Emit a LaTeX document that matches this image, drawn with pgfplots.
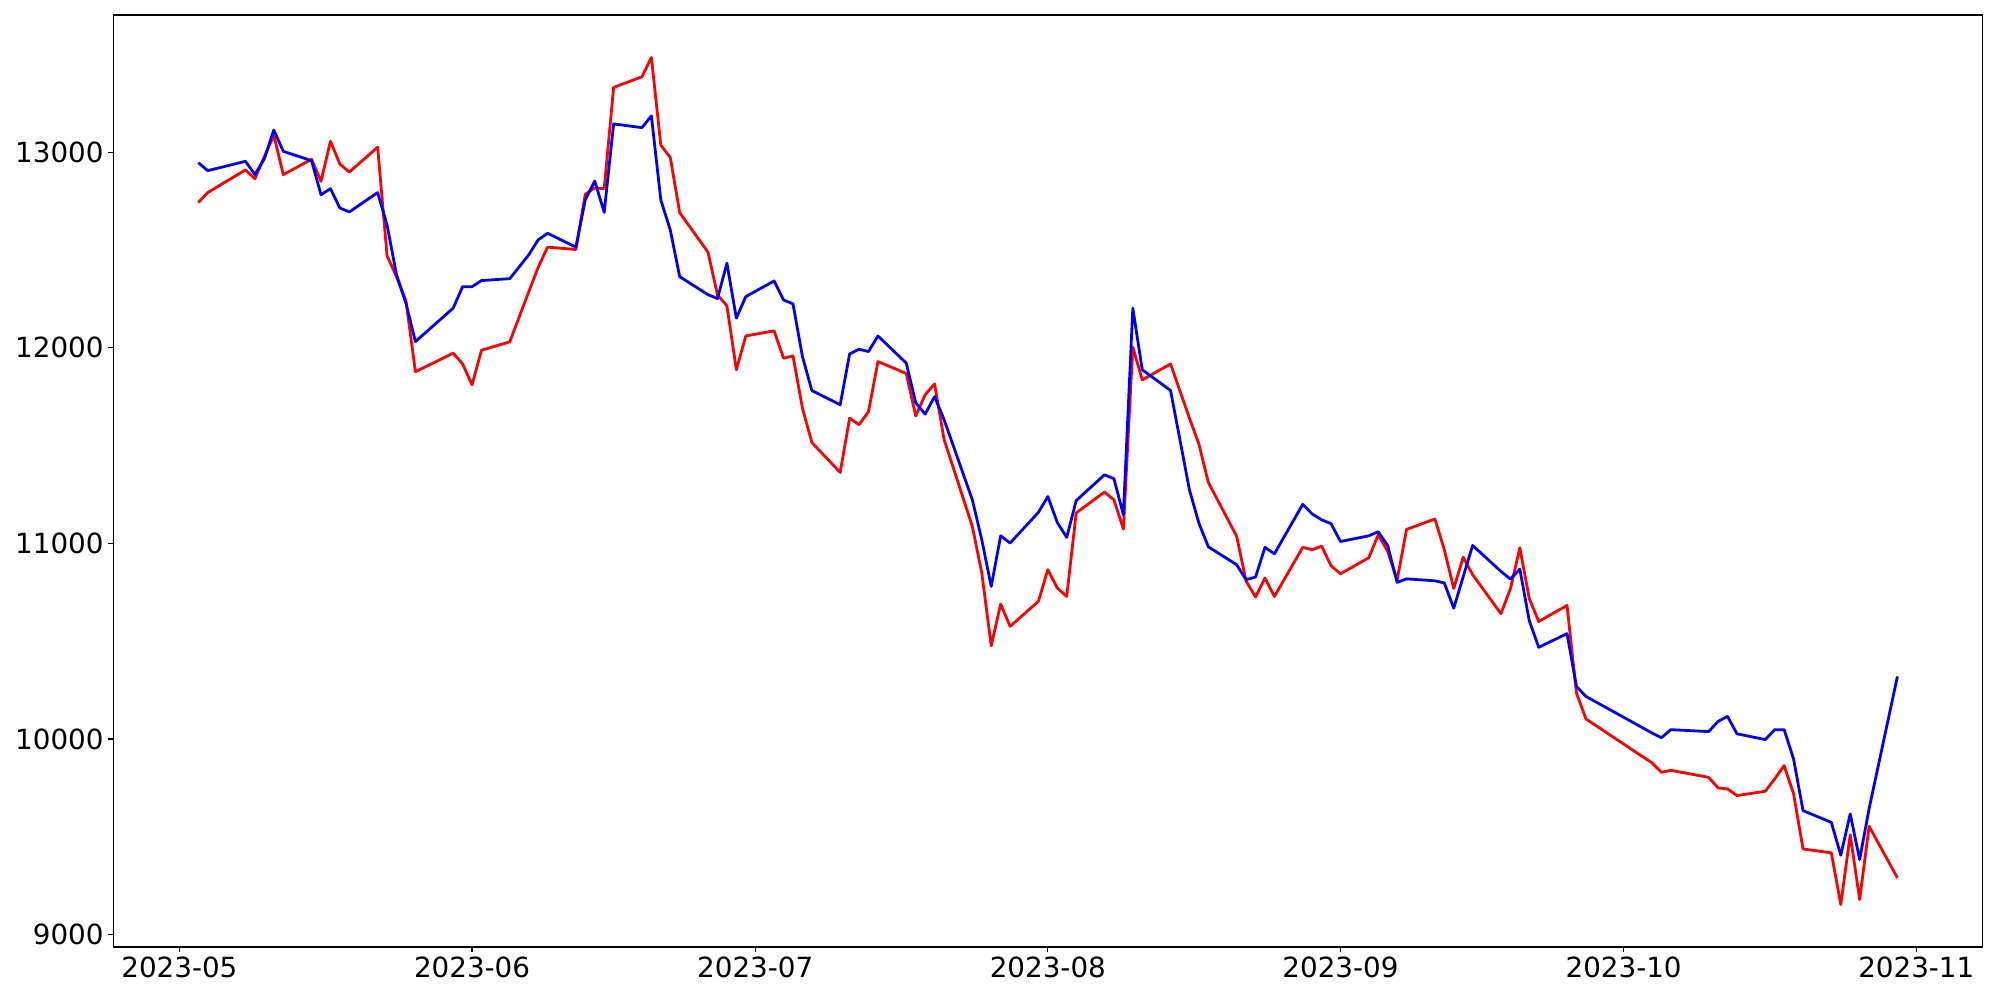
\documentclass[border=0pt]{standalone}
\usepackage{fontspec}
\setmainfont{DejaVu Sans}
\usepackage{pgfplots}
\usepackage{pgfplotstable}
\pgfplotsset{compat=1.18}

% day = days since 2023-05-01
\pgfplotstableread{
day red blue
2 12744 12947
3 12794 12906
7 12910 12954
8 12865 12886
9 12978 12967
10 13088 13114
11 12886 13005
14 12964 12957
15 12852 12783
16 13056 12814
17 12940 12715
18 12899 12695
21 13026 12794
22 12470 12628
23 12364 12373
24 12240 12228
25 11878 12032
29 11973 12203
30 11918 12313
31 11811 12313
32 11988 12344
35 12031 12354
37 12286 12475
38 12411 12552
39 12515 12586
42 12503 12515
43 12786 12758
44 12818 12853
45 12814 12693
46 13332 13145
49 13386 13126
50 13485 13186
51 13036 12756
52 12974 12603
53 12691 12364
56 12489 12272
57 12271 12252
58 12215 12433
59 11888 12152
60 12061 12262
63 12087 12342
64 11947 12245
65 11959 12225
66 11692 11956
67 11516 11782
70 11363 11709
71 11641 11969
72 11607 11993
73 11674 11981
74 11930 12061
77 11869 11922
78 11652 11720
79 11760 11661
80 11816 11751
81 11533 11634
84 11087 11223
85 10849 11019
86 10477 10780
87 10690 11039
88 10576 11002
91 10704 11159
92 10866 11240
93 10772 11107
94 10729 11031
95 11156 11219
98 11263 11351
99 11223 11331
100 11074 11147
101 12004 12203
102 11836 11888
105 11918 11782
107 11640 11274
108 11508 11104
109 11312 10983
112 11037 10891
113 10808 10815
114 10726 10828
115 10823 10980
116 10729 10947
119 10980 11200
120 10968 11151
121 10986 11121
122 10886 11101
123 10845 11010
126 10927 11039
127 11044 11060
128 10960 10989
129 10812 10801
130 11072 10819
133 11125 10809
134 10968 10798
135 10770 10669
136 10930 10830
137 10840 10990
140 10641 10857
141 10768 10818
142 10978 10869
143 10718 10605
144 10601 10469
147 10683 10539
148 10235 10269
149 10103 10218
156 9878 10031
157 9830 10007
158 9840 10048
162 9804 10038
163 9750 10090
164 9745 10116
165 9711 10027
168 9733 9997
169 9796 10048
170 9864 10048
171 9720 9898
172 9438 9634
175 9418 9574
176 9154 9406
177 9511 9617
178 9179 9384
179 9554 9644
182 9290 10320
}\prices

\begin{document}
\begin{tikzpicture}
\useasboundingbox (-81.6pt,-38.2pt) rectangle (1358.4pt,681.8pt);
\begin{axis}[
  at={(0,0)}, anchor=south west,
  scale only axis,
  width=1345.7pt, height=671pt,
  xmin=-7, xmax=191,
  ymin=8937, ymax=13702,
  xtick={0,31,61,92,123,153,184},
  xticklabels={2023-05,2023-06,2023-07,2023-08,2023-09,2023-10,2023-11},
  ytick={9000,10000,11000,12000,13000},
  xtick pos=bottom, ytick pos=left,
  tick align=outside,
  major tick length=3.5pt,
  tick style={black, line width=0.8pt},
  axis line style={line width=0.8pt},
  ticklabel style={font=\fontsize{20}{24}\selectfont},
  /pgf/number format/assume math mode=true,
  /pgf/number format/set thousands separator={},
  scaled y ticks=false,
  xtick distance={},
  clip=true,
]
\addplot[red, line width=2pt, line join=round] table[x=day, y=red] {\prices};
\addplot[blue, line width=2pt, line join=round] table[x=day, y=blue] {\prices};
\end{axis}
\end{tikzpicture}
\end{document}
